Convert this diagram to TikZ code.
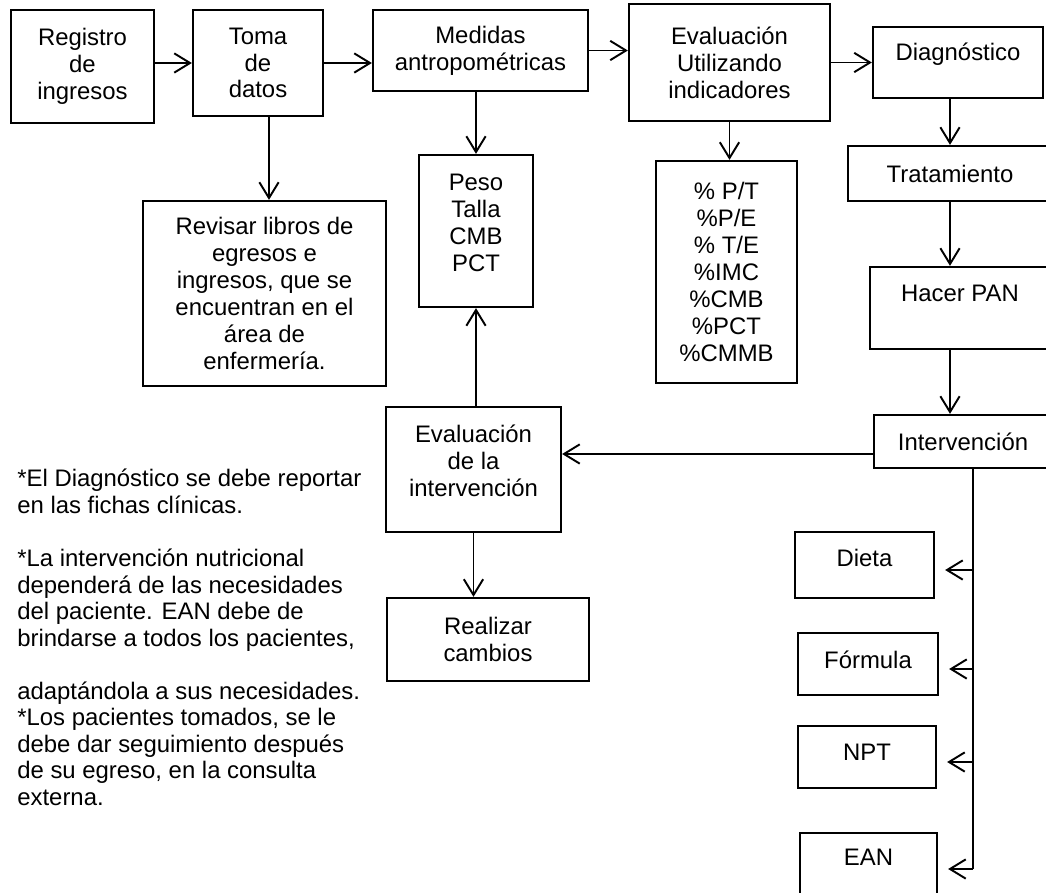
\documentclass[tikz,border=0pt]{standalone}
\usepackage{fontspec}
\setmainfont{Liberation Sans}
\usepackage{tikz}
\usetikzlibrary{arrows.meta}

\tikzset{
	caja/.style={draw, line width=1.3pt, align=center, inner sep=0pt, font=\fontsize{13.6}{15.3}\selectfont},
	flecha/.style={line width=1.1pt, -{Straight Barb[length=9pt, width=11pt, line width=1.1pt]}},
}

\begin{document}
\begin{tikzpicture}[x=0.02cm, y=-0.02cm]
	\useasboundingbox (0,0) rectangle (1046,893);
	\clip (0,0) rectangle (1046,893);

	\node[caja, minimum width=2.86cm, minimum height=2.26cm] (reg) at (82.5,66.5) {Registro\\de\\ingresos};
	\node[caja, minimum width=2.6cm, minimum height=2.12cm] (toma) at (258,63) {Toma\\de\\datos};
	\node[caja, minimum width=4.3cm, minimum height=1.62cm] (med) at (480.5,50.5) {Medidas\\antropométricas};
	\node[caja, minimum width=4.02cm, minimum height=2.34cm] (ind) at (729.5,62.5) {Evaluación\\Utilizando\\indicadores};
	\node[caja, minimum width=3.4cm, minimum height=1.42cm] (diag) at (958,62.5) {Diagnóstico\\[-3pt]};

	\node[caja, minimum width=4.86cm, minimum height=3.7cm] (rev) at (264.5,293.5) {Revisar libros de\\egresos e\\ingresos, que se\\encuentran en el\\área de\\enfermería.};
	\node[caja, minimum width=2.28cm, minimum height=3.04cm] (peso) at (476,231) {Peso\\Talla\\CMB\\PCT\\[-6pt]};
	\node[caja, minimum width=2.82cm, minimum height=4.44cm] (pct) at (726.5,272) {\% P/T\\\%P/E\\\% T/E\\\%IMC\\\%CMB\\\%PCT\\\%CMMB};
	\node[caja, minimum width=4.08cm, minimum height=1.1cm] (trat) at (950,173.5) {Tratamiento};
	\node[caja, minimum width=3.6cm, minimum height=1.64cm] (pan) at (960,308) {Hacer PAN\\[2pt]};
	\node[caja, minimum width=3.56cm, minimum height=1.06cm] (inter) at (963,441.5) {Intervención};

	\node[caja, minimum width=3.5cm, minimum height=2.5cm] (evint) at (473.5,469.5) {Evaluación\\de la\\intervención\\[-5pt]};
	\node[caja, minimum width=4.04cm, minimum height=1.66cm] (camb) at (488,639.5) {Realizar\\cambios};

	\node[caja, minimum width=2.78cm, minimum height=1.32cm] (dieta) at (864.5,565) {Dieta\\[-7pt]};
	\node[caja, minimum width=2.8cm, minimum height=1.24cm] (form) at (868,664) {Fórmula\\[-10pt]};
	\node[caja, minimum width=2.76cm, minimum height=1.24cm] (npt) at (867,757) {NPT\\[-10pt]};
	\node[caja, minimum width=2.74cm, minimum height=1.24cm] (ean) at (868.5,864) {EAN\\[-8pt]};

	\node[font=\fontsize{13.6}{15.1}\selectfont, align=left, anchor=north west, inner sep=0pt] (notas) at (17,469)
		{*El Diagnóstico se debe reportar\\en las fichas clínicas.\\[15.1pt]
		*La intervención nutricional\\dependerá de las necesidades\\del paciente. EAN debe de\\brindarse a todos los pacientes,\\[15.1pt]
		adaptándola a sus necesidades.\\*Los pacientes tomados, se le\\debe dar seguimiento después\\de su egreso, en la consulta\\externa.};

	\draw[flecha] (reg.east |- toma) -- (toma);
	\draw[flecha] (toma) -- (toma -| med.west);
	\draw[flecha] (med) -- (med -| ind.west);
	\draw[flecha] (ind) -- (ind -| diag.west);
	\draw[flecha] ([xshift=.22cm]toma.south) -- ([xshift=.22cm]toma.south |- rev.north);
	\draw[flecha] (med.south -| peso) -- (peso);
	\draw[flecha] (ind) -- (ind |- pct.north);
	\draw[flecha] (diag.south -| trat) -- (trat);
	\draw[flecha] (trat) -- (trat |- pan.north);
	\draw[flecha] (pan.south -| trat) -- (trat |- inter.north);
	\draw[flecha] ([yshift=-.25cm]inter.west) -- ([yshift=-.25cm]inter.west -| evint.east);
	\draw[flecha] (evint.north -| peso) -- (peso.south);
	\draw[flecha] (evint) -- (evint |- camb.north);

	\coordinate (bus) at (973,869);
	\draw[line width=1.1pt] (bus |- inter.south) -- (bus);
	\foreach \n in {dieta, form, npt, ean}
		\draw[flecha, shorten >=.2cm] ([yshift=-.1cm]\n.east -| bus) -- ([yshift=-.1cm]\n.east);
\end{tikzpicture}
\end{document}
